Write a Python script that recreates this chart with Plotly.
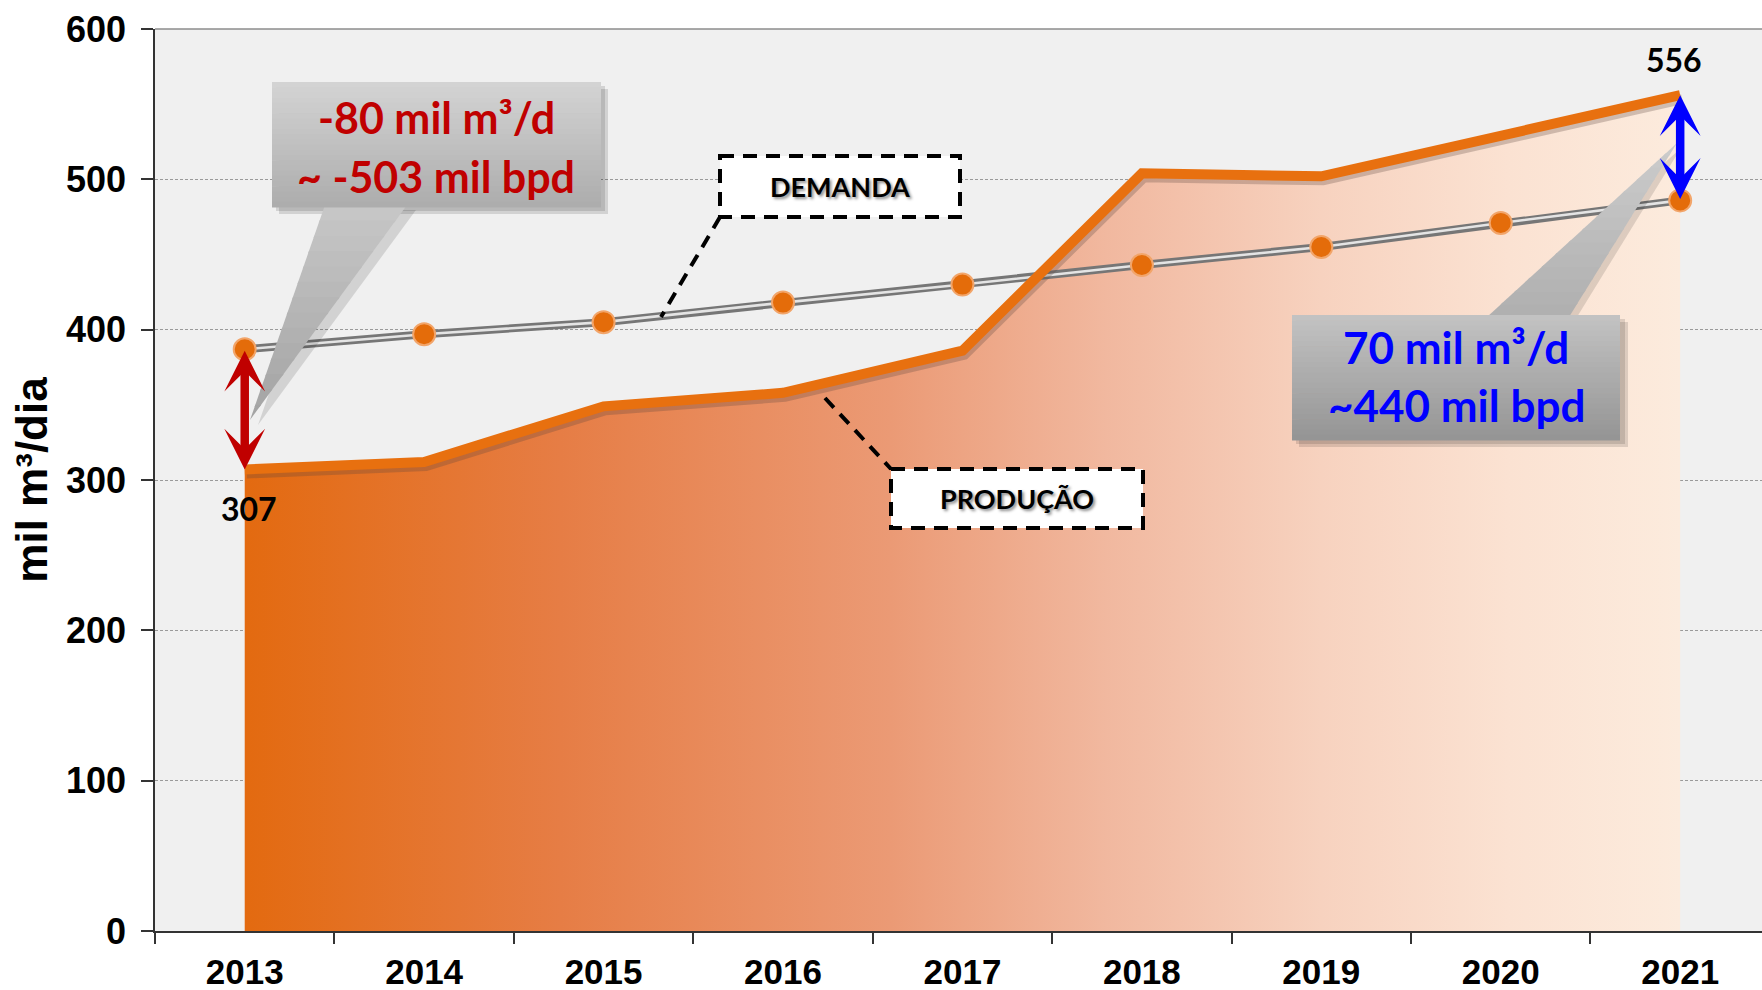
import plotly.graph_objects as go

# ---------------- data ----------------
years = ["2013", "2014", "2015", "2016", "2017", "2018", "2019", "2020", "2021"]
producao = [307, 312, 349, 358, 386, 504, 502, 529, 556]
demanda = [387, 397, 405, 418, 430, 443, 455, 471, 486]
y_ticks = [0, 100, 200, 300, 400, 500, 600]

label_first = "307"
label_last = "556"
callout_deficit = ["-80 mil m³/d", "~ -503 mil bpd"]
callout_surplus = ["70 mil m³/d", "~440 mil bpd"]
label_demanda = "DEMANDA"
label_producao = "PRODUÇÃO"
y_title = "mil m³/dia"

# ---------------- layout geometry ----------------
FW, FH = 1762, 990
ML, MR, MT, MB = 155, 0, 29, 59
PW, PH = FW - ML - MR, FH - MT - MB
X_RANGE = [-0.5, 8.456]
Y_RANGE = [0, 600]
px_per_cat = PW / (X_RANGE[1] - X_RANGE[0])
px_per_unit = PH / (Y_RANGE[1] - Y_RANGE[0])
i_first, i_last = 0, len(years) - 1


def P(X, Y):
    """pixel -> paper coords"""
    return ((X - ML) / PW, (FH - MB - Y) / PH)


def path(points):
    s = ""
    for i, (X, Y) in enumerate(points):
        px, py = P(X, Y)
        s += ("M" if i == 0 else "L") + f"{px:.5f},{py:.5f} "
    return s + "Z"


def rect(X0, Y0, X1, Y1, fill, line=None, dash=None, width=0, layer="above"):
    x0, y0 = P(X0, Y0)
    x1, y1 = P(X1, Y1)
    d = dict(type="rect", xref="paper", yref="paper", x0=x0, y0=y0, x1=x1, y1=y1,
             fillcolor=fill, layer=layer)
    if line:
        d["line"] = dict(color=line, width=width, dash=dash)
    else:
        d["line"] = dict(width=0)
    return d


def hexmix(c1, c2, t):
    a = [int(c1[i:i + 2], 16) for i in (1, 3, 5)]
    b = [int(c2[i:i + 2], 16) for i in (1, 3, 5)]
    return "#" + "".join(f"{round(a[k] + (b[k] - a[k]) * t):02x}" for k in range(3))


def grad_rect(X0, Y0, X1, Y1, ctop, cbot, n=24):
    out = []
    h = (Y1 - Y0) / n
    for i in range(n):
        out.append(rect(X0, Y0 + i * h, X1, Y0 + (i + 1) * h + 0.6,
                        hexmix(ctop, cbot, i / (n - 1))))
    return out


def grad_tri(base_l, base_r, tip, ctop, cbot, n=14):
    """triangle filled with bands from base (ctop) to tip (cbot)"""
    out = []
    for i in range(n):
        t0, t1 = i / n, min(1.0, (i + 1.15) / n)

        def lerp(p, q, t):
            return (p[0] + (q[0] - p[0]) * t, p[1] + (q[1] - p[1]) * t)
        pts = [lerp(base_l, tip, t0), lerp(base_r, tip, t0),
               lerp(base_r, tip, t1), lerp(base_l, tip, t1)]
        out.append(dict(type="path", xref="paper", yref="paper", path=path(pts),
                        fillcolor=hexmix(ctop, cbot, i / (n - 1)), line=dict(width=0),
                        layer="above"))
    return out


ORANGE = "#e46c0a"

fig = go.Figure()

# production area with horizontal gradient
fig.add_trace(go.Scatter(
    x=years, y=producao, mode="none", fill="tozeroy",
    fillgradient=dict(type="horizontal", colorscale=[
        [0.0, "#e36a10"], [0.22, "#e67d45"], [0.45, "#eb9a75"],
        [0.6, "#f1b89f"], [0.75, "#f7d2bf"], [0.88, "#fbe2d2"], [1.0, "#fcebdd"]]),
    hoverinfo="skip", showlegend=False))

# demand: double line with orange markers
fig.add_trace(go.Scatter(
    x=years, y=demanda, mode="lines", line=dict(color="#767676", width=8),
    hoverinfo="skip", showlegend=False))
fig.add_trace(go.Scatter(
    x=years, y=demanda, mode="lines+markers",
    line=dict(color="#e4e4e4", width=2.6),
    marker=dict(size=22, color=ORANGE, line=dict(color="#f2a56a", width=2)),
    showlegend=False))

# production line shadow (shifted overlay axes) and line
fig.add_trace(go.Scatter(
    x=years, y=producao, mode="lines", xaxis="x2", yaxis="y2",
    line=dict(color="rgba(90,70,60,0.28)", width=10),
    hoverinfo="skip", showlegend=False))
fig.add_trace(go.Scatter(
    x=years, y=producao, mode="lines", xaxis="x3", yaxis="y3",
    line=dict(color="#e8700f", width=10), showlegend=False))

AX_FONT = dict(family="Liberation Sans, Arial", size=36, color="#000000", weight="bold")
sx, sy = 2 / px_per_cat, 4 / px_per_unit

fig.update_layout(
    width=FW, height=FH,
    margin=dict(l=ML, r=MR, t=MT, b=MB, pad=0),
    paper_bgcolor="#ffffff", plot_bgcolor="#f0f0f0",
    showlegend=False,
    xaxis=dict(type="category", range=X_RANGE, tickson="boundaries", ticks="outside",
               ticklen=11, tickwidth=1.5, tickcolor="#333333", showline=True,
               linecolor="#333333", linewidth=1.5, showgrid=False, zeroline=False,
               tickfont=dict(family="Liberation Sans, Arial", size=35, color="#000000",
                             weight="bold"),
               ticklabelstandoff=9,
               automargin=False, fixedrange=True),
    yaxis=dict(range=Y_RANGE, tickvals=y_ticks, ticks="outside", ticklen=12,
               tickwidth=1.5, tickcolor="#333333", showline=True, linecolor="#333333",
               linewidth=1.5, showgrid=True, gridcolor="#9a9a9a", gridwidth=1,
               griddash="3px,2px", zeroline=False, tickfont=AX_FONT,
               ticklabelstandoff=8,
               title=dict(text=y_title, standoff=5,
                          font=dict(family="Liberation Sans, Arial", size=44,
                                    color="#000000", weight="bold")),
               automargin=False, fixedrange=True),
    xaxis2=dict(type="category", overlaying="x", visible=False,
                range=[X_RANGE[0] - sx, X_RANGE[1] - sx], fixedrange=True),
    yaxis2=dict(overlaying="y", visible=False,
                range=[Y_RANGE[0] + sy, Y_RANGE[1] + sy], fixedrange=True),
    xaxis3=dict(type="category", overlaying="x", visible=False, range=X_RANGE,
                fixedrange=True),
    yaxis3=dict(overlaying="y", visible=False, range=Y_RANGE, fixedrange=True),
)

shapes = []
# top border
shapes.append(dict(type="line", xref="paper", yref="paper", x0=0, x1=1, y0=1, y1=1,
                   line=dict(color="#8c8c8c", width=1.5), layer="above"))

# ---- callout 1 (deficit) ----
shapes.append(dict(type="path", xref="paper", yref="paper",
                   path=path([(333, 210), (416, 210), (258, 425)]),
                   fillcolor="rgba(0,0,0,0.12)", line=dict(width=0), layer="above"))
shapes.append(rect(279, 89, 608, 214, "rgba(0,0,0,0.12)"))
shapes.append(rect(276, 86, 605, 211, "rgba(0,0,0,0.12)"))
shapes += grad_tri((325, 205), (407, 205), (250, 420), "#c6c6c6", "#a4a4a4")
shapes += grad_rect(272, 82, 601, 207, "#d3d3d3", "#adadad")

# ---- callout 2 (surplus) ----
shapes.append(rect(1299, 322, 1628, 447, "rgba(0,0,0,0.12)"))
shapes.append(rect(1296, 319, 1625, 444, "rgba(0,0,0,0.12)"))
shapes.append(dict(type="path", xref="paper", yref="paper",
                   path=path([(1494, 317), (1577, 317), (1681, 148)]),
                   fillcolor="rgba(0,0,0,0.12)", line=dict(width=0), layer="above"))
shapes += grad_tri((1487, 317), (1569, 317), (1677, 143), "#b0b0b0", "#cbcbcb")
shapes += grad_rect(1292, 315, 1620, 440, "#c2c2c2", "#959595")

# ---- DEMANDA / PRODUÇÃO boxes and leaders ----
for (a, b) in [((720, 217), (661, 317)), ((825, 398), (891, 469))]:
    x0, y0 = P(*a)
    x1, y1 = P(*b)
    shapes.append(dict(type="line", xref="paper", yref="paper", x0=x0, y0=y0, x1=x1, y1=y1,
                       line=dict(color="#000000", width=4, dash="13px,9px"), layer="above"))
shapes.append(rect(720, 156, 960, 217, "#ffffff", line="#000000", dash="14px,9px", width=4))
shapes.append(rect(891, 469, 1143, 528, "#ffffff", line="#000000", dash="14px,9px", width=4))

fig.update_layout(shapes=shapes)

ann = []
LBL = dict(family="Lato, Open Sans, sans-serif", weight="bold")


def text_at(X, Y, txt, size, color, shadow=None):
    px, py = P(X, Y)
    f = dict(LBL, size=size, color=color)
    if shadow:
        f["shadow"] = shadow
    return dict(xref="paper", yref="paper", x=px, y=py, text=txt, showarrow=False,
                xanchor="center", yanchor="middle", font=f)


ann.append(text_at(436, 118, callout_deficit[0], 43, "#c00000"))
ann.append(text_at(436, 176, callout_deficit[1], 43, "#c00000"))
ann.append(text_at(1456, 347, callout_surplus[0], 44, "#0000ff"))
ann.append(text_at(1456, 405, callout_surplus[1], 44, "#0000ff"))
ann.append(text_at(840, 186, label_demanda, 27, "#000000", "2px 2px 3px rgba(0,0,0,0.45)"))
ann.append(text_at(1017, 498, label_producao, 27, "#000000", "2px 2px 3px rgba(0,0,0,0.45)"))

# value labels tied to data points (category index positions)
ann.append(dict(x=i_first, y=producao[i_first], xref="x", yref="y", text=label_first,
                showarrow=False, yanchor="top", yshift=-18, xshift=4,
                font=dict(LBL, size=32, color="#000000")))
ann.append(dict(x=i_last, y=producao[i_last], xref="x", yref="y", text=label_last,
                showarrow=False, yanchor="bottom", yshift=14, xshift=-6,
                font=dict(LBL, size=32, color="#000000")))

# double arrows between demand and production
for i, col in [(i_first, "#c00000"), (i_last, "#0000ff")]:
    ann.append(dict(x=i, y=producao[i], ax=i, ay=demanda[i], xref="x", yref="y",
                    axref="x", ayref="y", text="", showarrow=True, arrowside="end+start",
                    arrowhead=3, startarrowhead=3, arrowsize=0.8, startarrowsize=0.8,
                    arrowwidth=8.5, arrowcolor=col, standoff=0, startstandoff=0))

fig.update_layout(annotations=ann)

fig.write_html("out.html", config={"displayModeBar": False},
               post_script="document.body.style.margin='0';"
               "document.documentElement.style.overflow='hidden';")
